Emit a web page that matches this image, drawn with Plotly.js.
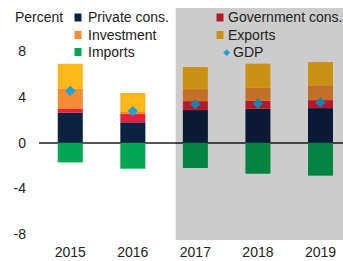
<!DOCTYPE html>
<html><head><meta charset="utf-8">
<script src="https://cdn.plot.ly/plotly-3.0.1.min.js"></script>
<style>html,body{margin:0;padding:0;background:#fff}#chart{width:343px;height:261px}</style>
</head><body><div id="chart"></div>
<script>
const years = ["2015", "2016", "2017", "2018", "2019"];
const privateCons = [2.63, 1.80, 2.87, 2.98, 3.04];
const governmentCons = [0.33, 0.72, 0.78, 0.70, 0.70];
const investment = [1.76, 0.18, 1.05, 1.13, 1.30];
const exportsV = [2.20, 1.67, 1.93, 2.12, 2.03];
const importsV = [-1.71, -2.26, -2.20, -2.70, -2.87];
const gdp = [4.55, 2.78, 3.37, 3.45, 3.54];
const yTicks = [-8, -4, 0, 4, 8];
const seriesNames = ["Private cons.", "Government cons.", "Investment", "Exports", "Imports", "GDP"];
const seriesColors = ["#0b2142", "#e4203a", "#f58b32", "#fdb71a", "#00a651", "#1aa3dc"];

const W = 343, H = 261, M = {l: 39, r: 0, t: 8, b: 21};
const pw = W - M.l - M.r, ph = H - M.t - M.b;
const px = v => (v - M.l) / pw;
const py = v => (H - M.b - v) / ph;

const font = {family: "Liberation Sans, Arial, sans-serif", size: 14, color: "#222"};
function bar(i, y) {
  return {type: "bar", name: seriesNames[i], x: years, y: y, width: 0.4,
    marker: {color: seriesColors[i], line: {width: 0}}, hoverinfo: "skip", showlegend: false};
}
const data = [
  bar(0, privateCons), bar(1, governmentCons), bar(2, investment),
  bar(3, exportsV), bar(4, importsV),
  {type: "scatter", mode: "markers", name: seriesNames[5], x: years, y: gdp, showlegend: false,
   marker: {symbol: "diamond", size: 8, color: seriesColors[5]}, hoverinfo: "skip"}
];

// legend drawn as shapes + annotations (2 columns x 3 rows)
const colSw = [78, 220], colTx = [87, 227], rowY = [17.5, 35, 52];
const shapes = [], annotations = [];
seriesNames.forEach((n, i) => {
  const c = i % 2, r = Math.floor(i / 2);
  if (i < 5) {
    shapes.push({type: "rect", xref: "paper", yref: "paper",
      x0: px(colSw[c] - 3.5), x1: px(colSw[c] + 3.5), y0: py(rowY[r] + 4), y1: py(rowY[r] - 4),
      fillcolor: seriesColors[i], line: {width: 0}, layer: "above"});
    annotations.push({text: n, xref: "paper", yref: "paper", x: px(colTx[c]), y: py(rowY[r]),
      xanchor: "left", yanchor: "middle", showarrow: false, font: font, borderpad: 0});
  } else {
    annotations.push({text: "\u25C6", xref: "paper", yref: "paper", x: px(colSw[c] + 6), y: py(rowY[r]),
      xanchor: "center", yanchor: "middle", showarrow: false, borderpad: 0,
      font: {family: font.family, size: 9, color: seriesColors[i]}});
    annotations.push({text: n, xref: "paper", yref: "paper", x: px(colTx[c] + 5), y: py(rowY[r]),
      xanchor: "left", yanchor: "middle", showarrow: false, font: font, borderpad: 0});
  }
});
shapes.push({type: "rect", xref: "x", yref: "paper", x0: 1.685, x1: 4.36, y0: 0, y1: 1,
  fillcolor: "rgba(0,0,0,0.2)", line: {width: 0}, layer: "above"});
annotations.push({text: "Percent", xref: "paper", yref: "paper", x: px(14), y: py(17.5),
  xanchor: "left", yanchor: "middle", showarrow: false, font: font, borderpad: 0});

const layout = {
  width: W, height: H, margin: M,
  barmode: "relative",
  paper_bgcolor: "#fff", plot_bgcolor: "#fff",
  font: font, showlegend: false,
  xaxis: {type: "category", range: [-0.5, 4.36], showgrid: false, showline: false,
    ticks: "", tickfont: font, zeroline: false, ticklabelstandoff: 2},
  yaxis: {range: [-8.5, 11.8], tickvals: yTicks, ticktext: yTicks.map(String),
    showgrid: false, showline: false, ticks: "", tickfont: font,
    zeroline: true, zerolinecolor: "#555", zerolinewidth: 2, ticklabelstandoff: 12},
  shapes: shapes, annotations: annotations
};
Plotly.newPlot("chart", data, layout, {staticPlot: true, displayModeBar: false});
</script></body></html>
